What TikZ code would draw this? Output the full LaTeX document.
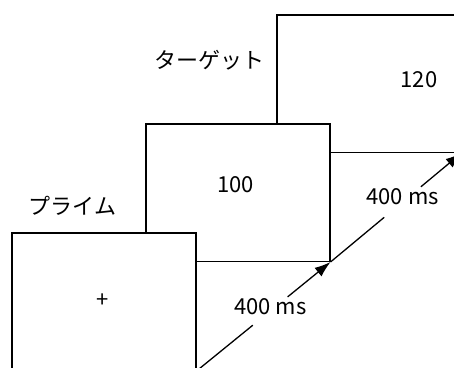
\documentclass[tikz,border=0pt]{standalone}
\usepackage{fontspec}
\setmainfont{Noto Sans CJK JP}
\usetikzlibrary{arrows.meta,calc}
\begin{document}
\begin{tikzpicture}[x=1pt,y=-1pt,
  screen/.style={draw=black,line width=1.5pt,fill=white,minimum width=184pt,minimum height=137.5pt,inner sep=0pt,anchor=north west},
  lbl/.style={font=\fontsize{22}{26}\selectfont,inner sep=0pt,text=black},
  conn/.style={line width=1.3pt},
  tip/.style={-{Latex[length=16pt,width=11pt]}}]
\useasboundingbox (0,0) rectangle (454,367);
\clip (0,0) rectangle (454,367);
\node[screen] (b3) at (276,14) {};
\node[screen] (b2) at (145,123) {};
\node[screen] (b1) at (11,232) {};
\node[lbl] (t120) at (419,79.5) {120};
\node[lbl] (t100) at (235.5,185) {100};
\node[lbl] (tplus) at (103,301) {+};
\node[lbl] (prime) at (72.5,206) {プライム};
\node[lbl] (target) at (209.5,60) {ターゲット};
\draw[conn] (b1.south east) -- ($(b1.south east)!0.42!(b2.south east)$);
\draw[conn,tip] ($(b1.south east)!0.68!(b2.south east)$) -- (b2.south east);
\node[lbl] (d1) at ($(b1.south east)!0.55!(b2.south east)+(0,-4)$) {400 ms};
\draw[conn] (b2.south east) -- ($(b2.south east)!0.41!(b3.south east)$);
\draw[conn,tip] ($(b2.south east)!0.69!(b3.south east)$) -- (b3.south east);
\node[lbl] (d2) at ($(b2.south east)!0.55!(b3.south east)+(0,-5)$) {400 ms};
\end{tikzpicture}
\end{document}
